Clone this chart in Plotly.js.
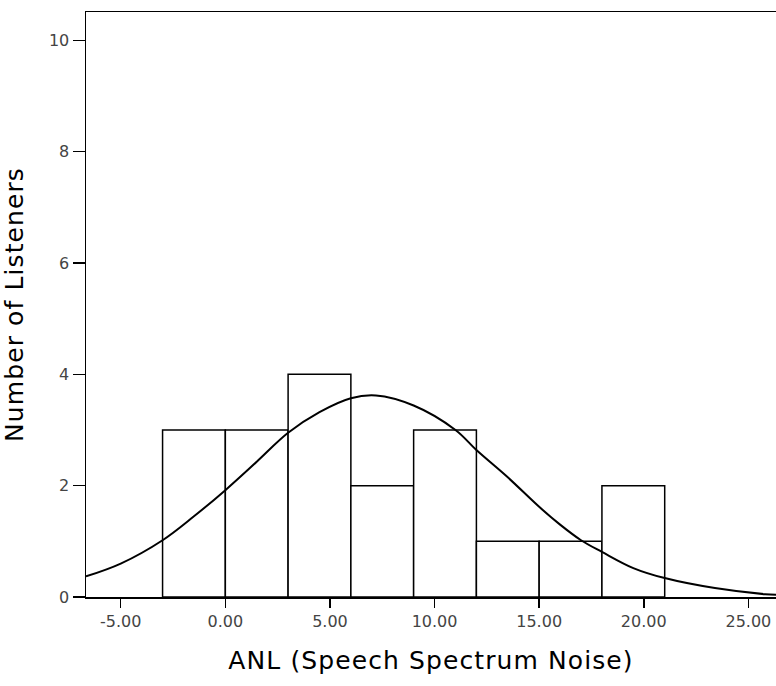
<!DOCTYPE html>
<html>
<head>
<meta charset="utf-8">
<script src="https://cdn.plot.ly/plotly-3.0.1.min.js"></script>
<style>
html, body { margin: 0; padding: 0; background: #fff; }
#chart { width: 776px; height: 686px; }
.xtitle, .ytitle { letter-spacing: 1.1px; }
</style>
</head>
<body>
<div id="chart"></div>
<script>
// Histogram bins (centres) and counts
const binCenters = [-1.5, 1.5, 4.5, 7.5, 10.5, 13.5, 16.5, 19.5];
const binCounts  = [3, 3, 4, 2, 3, 1, 1, 2];
const binWidth   = 3;

// Fitted normal curve
const curveX = [-6.66, -5, -3, -1.5, 0, 1.5, 3, 4.5, 6, 7.2, 9, 11, 12, 13.5, 15, 16, 17, 18, 19.5, 21, 23.4, 25.8, 26.32];
const curveY = [0.37, 0.6, 1.02, 1.45, 1.92, 2.43, 2.95, 3.32, 3.57, 3.62, 3.44, 3.0, 2.64, 2.15, 1.62, 1.3, 1.02, 0.81, 0.52, 0.34, 0.16, 0.05, 0.04];

const xTicks = [-5, 0, 5, 10, 15, 20, 25];
const xTickLabels = ['-5.00', '0.00', '5.00', '10.00', '15.00', '20.00', '25.00'];
const yTicks = [0, 2, 4, 6, 8, 10];

const bars = {
  type: 'bar',
  x: binCenters,
  y: binCounts,
  width: binCenters.map(() => binWidth),
  marker: { color: '#ffffff', line: { color: '#000000', width: 1.5 } },
  hoverinfo: 'x+y',
  showlegend: false
};

const curve = {
  type: 'scatter',
  mode: 'lines',
  x: curveX,
  y: curveY,
  line: { color: '#000000', width: 2, shape: 'spline', smoothing: 1 },
  showlegend: false
};

const layout = {
  width: 776,
  height: 686,
  margin: { l: 86, r: 0, t: 12, b: 89 },
  paper_bgcolor: '#ffffff',
  plot_bgcolor: '#ffffff',
  font: { family: 'DejaVu Sans, sans-serif', color: '#000' },
  bargap: 0,
  xaxis: {
    range: [-6.66, 26.32],
    tickvals: xTicks,
    ticktext: xTickLabels,
    ticks: 'outside',
    ticklen: 9,
    tickwidth: 1.5,
    tickcolor: '#000',
    showgrid: false,
    zeroline: false,
    showline: true,
    mirror: true,
    linecolor: '#000',
    linewidth: 1.5,
    tickfont: { family: 'DejaVu Sans, sans-serif', size: 16, color: '#444' },
    title: { text: 'ANL (Speech Spectrum Noise)', font: { family: 'DejaVu Sans, sans-serif', size: 25, color: '#000' }, standoff: 22 }
  },
  yaxis: {
    range: [0, 10.51],
    tickvals: yTicks,
    ticks: 'outside',
    ticklen: 12,
    tickwidth: 1.5,
    tickcolor: '#000',
    showgrid: false,
    zeroline: false,
    showline: true,
    linecolor: '#000',
    linewidth: 1.5,
    tickfont: { family: 'DejaVu Sans, sans-serif', size: 16, color: '#444' },
    title: { text: 'Number of Listeners', font: { family: 'DejaVu Sans, sans-serif', size: 25, color: '#000' }, standoff: 18 }
  }
};

Plotly.newPlot('chart', [bars, curve], layout, { displayModeBar: false, staticPlot: true });
</script>
</body>
</html>
